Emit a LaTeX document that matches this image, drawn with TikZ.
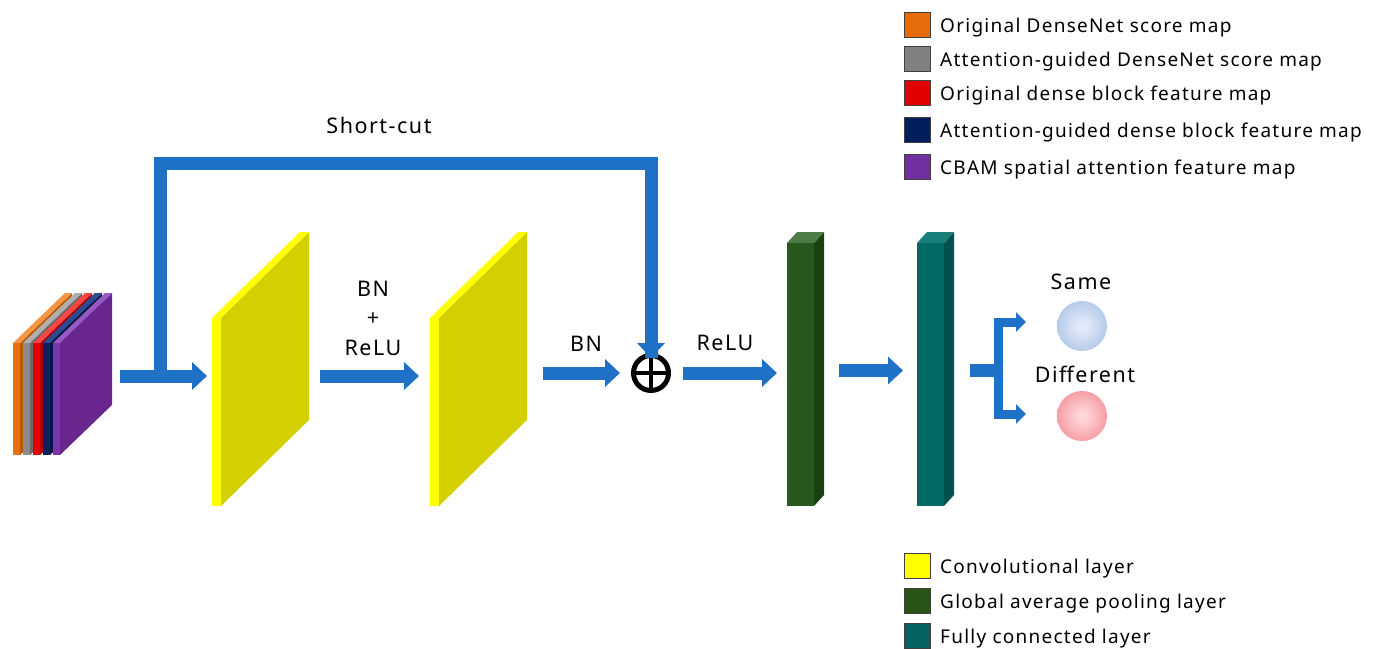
\documentclass[tikz,border=0pt]{standalone}
\usepackage{fontspec}
\setmainfont{Noto Sans}
\newfontfamily\labelfont[LetterSpace=7]{Noto Sans}
\newfontfamily\legendfont[LetterSpace=6.6]{Noto Sans}
\usetikzlibrary{arrows.meta}

% palette
\definecolor{flowblue}{RGB}{31,113,200}
\definecolor{oFront}{RGB}{232,112,15}\definecolor{oSide}{RGB}{190,88,0}\definecolor{oTop}{RGB}{243,150,70}
\definecolor{gFront}{RGB}{140,140,140}\definecolor{gSide}{RGB}{105,105,105}\definecolor{gTop}{RGB}{175,175,175}
\definecolor{rFront}{RGB}{228,0,0}\definecolor{rSide}{RGB}{175,0,0}\definecolor{rTop}{RGB}{250,70,70}
\definecolor{nFront}{RGB}{12,32,96}\definecolor{nSide}{RGB}{6,22,70}\definecolor{nTop}{RGB}{45,75,145}
\definecolor{pFront}{RGB}{122,53,168}\definecolor{pSide}{RGB}{104,38,142}\definecolor{pTop}{RGB}{150,90,196}
\definecolor{yFront}{RGB}{255,255,0}\definecolor{ySide}{RGB}{211,207,0}
\definecolor{gapFront}{RGB}{40,88,30}\definecolor{gapSide}{RGB}{25,66,17}\definecolor{gapTop}{RGB}{78,124,70}
\definecolor{fcFront}{RGB}{3,105,100}\definecolor{fcSide}{RGB}{0,82,80}\definecolor{fcTop}{RGB}{25,128,121}
\definecolor{legOrange}{RGB}{228,108,10}\definecolor{legGray}{RGB}{128,128,128}
\definecolor{legRed}{RGB}{224,0,0}\definecolor{legNavy}{RGB}{0,30,92}
\definecolor{legPurple}{RGB}{112,48,160}\definecolor{legYellow}{RGB}{255,255,0}
\definecolor{legGreen}{RGB}{40,84,24}\definecolor{legTeal}{RGB}{6,98,94}
\definecolor{sameIn}{RGB}{226,234,248}\definecolor{sameOut}{RGB}{150,180,224}
\definecolor{diffIn}{RGB}{255,214,216}\definecolor{diffOut}{RGB}{238,118,128}

% ball shadings: the last stop is the rim of the circle
\pgfdeclareradialshading{sameball}{\pgfpoint{0bp}{0bp}}{color(0bp)=(sameIn); color(4bp)=(sameIn); color(40bp)=(sameOut); color(50bp)=(sameOut)}
\pgfdeclareradialshading{diffball}{\pgfpoint{0bp}{0bp}}{color(0bp)=(diffIn); color(4bp)=(diffIn); color(40bp)=(diffOut); color(50bp)=(diffOut)}

% thin 3-D slab: left x, top y, bottom y, thickness, depth dx, depth rise, front/side/top colours
\newcommand\layerbox[9]{%
  \fill[#8] (#1+#4,#2) -- ++(#5,-#6) -- (#1+#4+#5,#3-#6) -- (#1+#4,#3) -- cycle;
  \fill[#9] (#1,#2) -- ++(#5,-#6) -- ++(#4,0) -- (#1+#4,#2) -- cycle;
  \fill[#7] (#1,#2) rectangle (#1+#4,#3);
}

\tikzset{
  flow/.style={draw=flowblue, line width=13pt, -{Triangle[width=27pt,length=15pt]}},
  trunk/.style={draw=flowblue, line width=13pt, line join=miter},
  twig/.style={draw=flowblue, line width=9pt, line join=miter,
    {Triangle[width=19pt,length=10pt]}-{Triangle[width=19pt,length=10pt]}},
  lbl/.style={font=\labelfont\fontsize{21.5}{29.5}\selectfont, inner sep=0pt},
  legtxt/.style={font=\legendfont\fontsize{19}{23}\selectfont, anchor=base west, inner sep=0pt},
  legsq/.style={draw=black!75, line width=0.8pt, minimum width=26pt, minimum height=25pt, inner sep=0pt},
}

\begin{document}
\begin{tikzpicture}[x=1pt,y=-1pt]
\useasboundingbox (0,0) rectangle (1379,648);

% input stack of feature maps
\layerbox{13}{343}{455}{7}{52}{50}{oFront}{oSide}{oTop}
\layerbox{23}{343}{455}{7}{52}{50}{gFront}{gSide}{gTop}
\layerbox{33}{343}{455}{7}{52}{50}{rFront}{rSide}{rTop}
\layerbox{43}{343}{455}{7}{52}{50}{nFront}{nSide}{nTop}
\layerbox{53}{343}{455}{7}{52}{50}{pFront}{pSide}{pTop}

% convolutional layers
\layerbox{212}{318}{506}{9}{88}{86}{yFront}{ySide}{yFront}
\layerbox{430}{318}{506}{9}{88}{86}{yFront}{ySide}{yFront}

% global average pooling and fully connected bars
\layerbox{787}{243}{506}{27}{10}{11}{gapFront}{gapSide}{gapTop}
\layerbox{917}{243}{506}{27}{10}{11}{fcFront}{fcSide}{fcTop}

% ports
\coordinate (stack-out) at (120,376);
\coordinate (conv1-in)  at (207,376);
\coordinate (sc-root)   at (160,376);
\coordinate (sc-corner) at (160,163);
\coordinate (conv1-out) at (320,376);
\coordinate (conv2-in)  at (419,376);
\coordinate (conv2-out) at (543,373);
\coordinate (gap-in)    at (777,373);
\coordinate (gap-out)   at (839,370.5);
\coordinate (fc-in)     at (903,370.5);
\coordinate (fc-out)    at (970,370);
\coordinate (split)     at (1003,370);
\coordinate (same-in)   at (1026,322);
\coordinate (diff-in)   at (1026,414);

% element-wise sum
\node[circle, draw=black, line width=5pt, minimum size=35pt, inner sep=0pt,
  path picture={\draw[line width=4.5pt] (path picture bounding box.north) -- (path picture bounding box.south)
     (path picture bounding box.west) -- (path picture bounding box.east);}] (sum) at (651,373) {};

% outputs
\node[circle, minimum size=50pt, inner sep=0pt, shading=sameball] (same) at (1082,326) {};
\node[circle, minimum size=50pt, inner sep=0pt, shading=diffball] (diff) at (1082,416) {};

% connectors
\draw[trunk] (sc-root) -- (sc-corner) -| ([yshift=-5pt]sum.north);
\draw[flow] (sc-corner -| sum) -- ([yshift=-5pt]sum.north);
\draw[flow] (stack-out) -- (conv1-in);
\draw[flow] (conv1-out) -- (conv2-in);
\draw[flow] (conv2-out) -- ([xshift=-11pt]sum.west);
\draw[flow] ([xshift=12pt]sum.east) -- (gap-in);
\draw[flow] (gap-out) -- (fc-in);
\draw[trunk] (fc-out) -- (split);
\draw[twig] (same-in) -- (998,322) -- (998,414) -- (diff-in);

% labels
\node[lbl, anchor=base] at (379,133) {Short-cut};
\node[lbl, align=center] at (373,318) {BN\\+\\ReLU};
\node[lbl, anchor=base] at (586,351) {BN};
\node[lbl, anchor=base] at (725,350) {ReLU};
\node[lbl, anchor=base] at (1081,289) {Same};
\node[lbl, anchor=base] at (1085,382) {Different};

% legend
\node[legsq, fill=legOrange] at (917,25) {};
\node[legtxt] at (940,32.5) {Original DenseNet score map};
\node[legsq, fill=legGray] at (917,58.7) {};
\node[legtxt] at (940,66.2) {Attention-guided DenseNet score map};
\node[legsq, fill=legRed] at (917,93) {};
\node[legtxt] at (940,100.5) {Original dense block feature map};
\node[legsq, fill=legNavy] at (917,129.5) {};
\node[legtxt] at (940,137) {Attention-guided dense block feature map};
\node[legsq, fill=legPurple] at (917,167) {};
\node[legtxt] at (940,174.5) {CBAM spatial attention feature map};

\node[legsq, fill=legYellow] at (917,565.5) {};
\node[legtxt] at (940,573) {Convolutional layer};
\node[legsq, fill=legGreen] at (917,600.5) {};
\node[legtxt] at (940,608) {Global average pooling layer};
\node[legsq, fill=legTeal] at (917,636) {};
\node[legtxt] at (940,643.5) {Fully connected layer};
\end{tikzpicture}
\end{document}
